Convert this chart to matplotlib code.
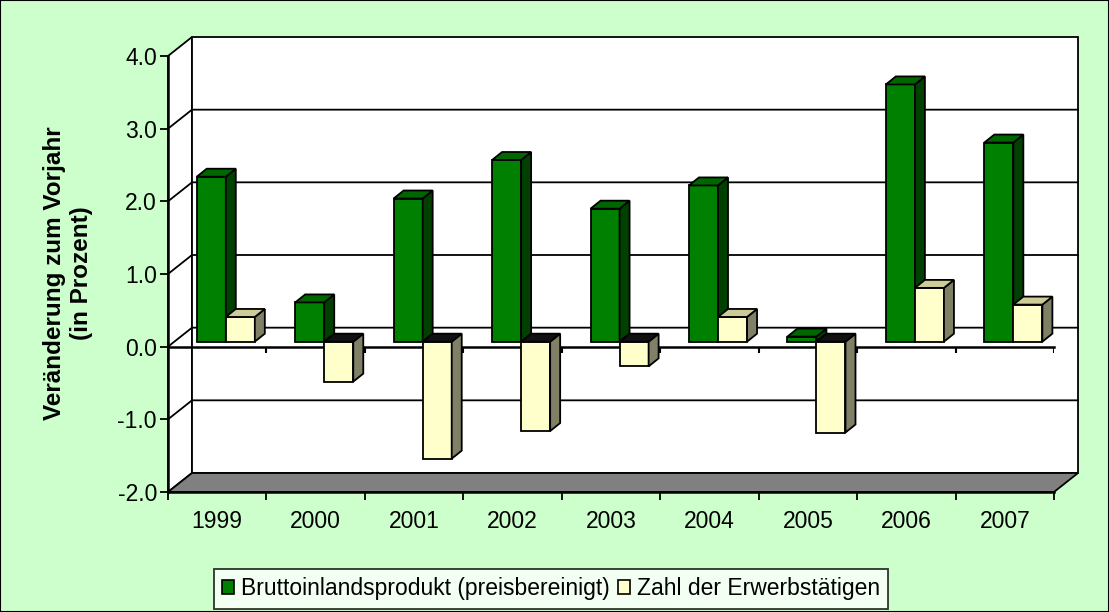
import numpy as np
import matplotlib
matplotlib.use("Agg")
import matplotlib.pyplot as plt
from matplotlib.patches import Polygon, Rectangle

plt.rcParams['font.family'] = ['Liberation Sans', 'DejaVu Sans']

# data
years = ['1999', '2000', '2001', '2002', '2003', '2004', '2005', '2006', '2007']
bip = [2.27, 0.54, 1.97, 2.50, 1.83, 2.15, 0.07, 3.54, 2.74]
erwerb = [0.34, -0.55, -1.61, -1.23, -0.34, 0.34, -1.25, 0.74, 0.51]
yticks = [-2.0, -1.0, 0.0, 1.0, 2.0, 3.0, 4.0]
series_names = ['Bruttoinlandsprodukt (preisbereinigt)', 'Zahl der Erwerbstätigen']

# colours: front, side, top, top when negative
green = ('#008000', '#004000', '#006600', '#003300')
yellow = ('#FFFFCC', '#808066', '#CCCC99', '#111111')

W, H = 1109, 612
fig = plt.figure(figsize=(W / 100, H / 100), dpi=100, facecolor='#CCFFCC')
fig.add_artist(Rectangle((0, 0), 1, 1, transform=fig.transFigure, fill=False,
                         edgecolor='black', lw=1.5))

# front plane of the 3d box in pixels
left_px, right_px, top_px, bot_px = 168, 1054, 56, 492
ax = fig.add_axes([left_px / W, 1 - bot_px / H, (right_px - left_px) / W, (bot_px - top_px) / H])
n = len(years)
x0, x1 = -0.5, n - 0.5
ymin, ymax = yticks[0], yticks[-1]
ax.set_xlim(x0, x1)
ax.set_ylim(ymin, ymax)
ax.patch.set_alpha(0)

px_x = (right_px - left_px) / n
px_y = (bot_px - top_px) / (ymax - ymin)
DX, DY = 24 / px_x, 19 / px_y          # depth of the whole box
BDX, BDY = 10 / px_x, 8 / px_y         # depth of a bar
OY = 5 / px_y                          # bars stand a bit behind the front
OX = 0.087
bw = 0.295

lw = 1.3
def poly(pts, fc, z):
    ax.add_patch(Polygon(pts, closed=True, facecolor=fc, edgecolor='black',
                         lw=lw, zorder=z, clip_on=False, joinstyle='miter'))

# walls and floor
poly([(x0, ymin), (x0 + DX, ymin + DY), (x0 + DX, ymax + DY), (x0, ymax)], 'white', 1)
poly([(x0 + DX, ymin + DY), (x1 + DX, ymin + DY), (x1 + DX, ymax + DY), (x0 + DX, ymax + DY)], 'white', 1)
poly([(x0, ymin), (x1, ymin), (x1 + DX, ymin + DY), (x0 + DX, ymin + DY)], '#808080', 1)
for v in yticks[1:-1]:
    ax.plot([x0, x0 + DX, x1 + DX], [v, v + DY, v + DY], color='black', lw=lw, zorder=2,
            clip_on=False, solid_joinstyle='miter')

# zero axis with ticks
bounds = np.arange(n + 1) - 0.5
ax.plot([x0, x1], [0, 0], color='black', lw=1.8, zorder=2, clip_on=False)
ax.vlines(bounds[1:], 0, -6 / px_y, color='black', lw=1.5, zorder=2)


def bar3d(xl, v, cols, z):
    base = OY
    top = v + OY
    xr = xl + bw
    lo, hi = min(base, top), max(base, top)
    poly([(xl, lo), (xr, lo), (xr, hi), (xl, hi)], cols[0], z)
    poly([(xr, lo), (xr + BDX, lo + BDY), (xr + BDX, hi + BDY), (xr, hi)], cols[1], z)
    poly([(xl, hi), (xr, hi), (xr + BDX, hi + BDY), (xl + BDX, hi + BDY)],
         cols[2] if v >= 0 else cols[3], z)


for i in range(n):
    bar3d(i + OX - bw, bip[i], green, 3 + 2 * i)
    bar3d(i + OX, erwerb[i], yellow, 4 + 2 * i)

# axes styling
for s in ['top', 'right']:
    ax.spines[s].set_visible(False)
ax.spines['left'].set_linewidth(1.8)
ax.spines['bottom'].set_linewidth(1.8)
ax.spines['left'].set_zorder(30)
ax.spines['bottom'].set_zorder(30)
ax.set_yticks(yticks)
ax.set_yticklabels([f'{v:.1f}' for v in yticks])
ax.set_xticks(bounds)
ax.set_xticklabels([])
ax.set_xticks(np.arange(n), minor=True)
ax.set_xticklabels(years, minor=True)
ax.tick_params(axis='y', length=6, width=1.3, pad=2, labelsize=16.5)
ax.tick_params(axis='x', which='major', length=6, width=1.3)
ax.tick_params(axis='x', which='minor', length=0, pad=13, labelsize=16.5)

fig.text(68 / W, 1 - 273 / H, 'Veränderung zum Vorjahr\n(in Prozent)', rotation=90,
         ha='center', va='center', fontsize=17.5, fontweight='bold', linespacing=1.2)

handles = [Rectangle((0, 0), 1, 1, facecolor=green[0], edgecolor='black', lw=1.2),
           Rectangle((0, 0), 1, 1, facecolor=yellow[0], edgecolor='black', lw=1.2)]
leg = fig.legend(handles, series_names, loc='center', bbox_to_anchor=(551 / W, 1 - 589 / H),
                 ncol=2, fontsize=16.5, frameon=True, fancybox=False, edgecolor='black',
                 handlelength=0.55, handleheight=0.55, handletextpad=0.3, columnspacing=0.35,
                 borderpad=0.35, borderaxespad=0)
leg.get_frame().set_linewidth(1.3)

fig.savefig('out.png', dpi=100, facecolor=fig.get_facecolor())
